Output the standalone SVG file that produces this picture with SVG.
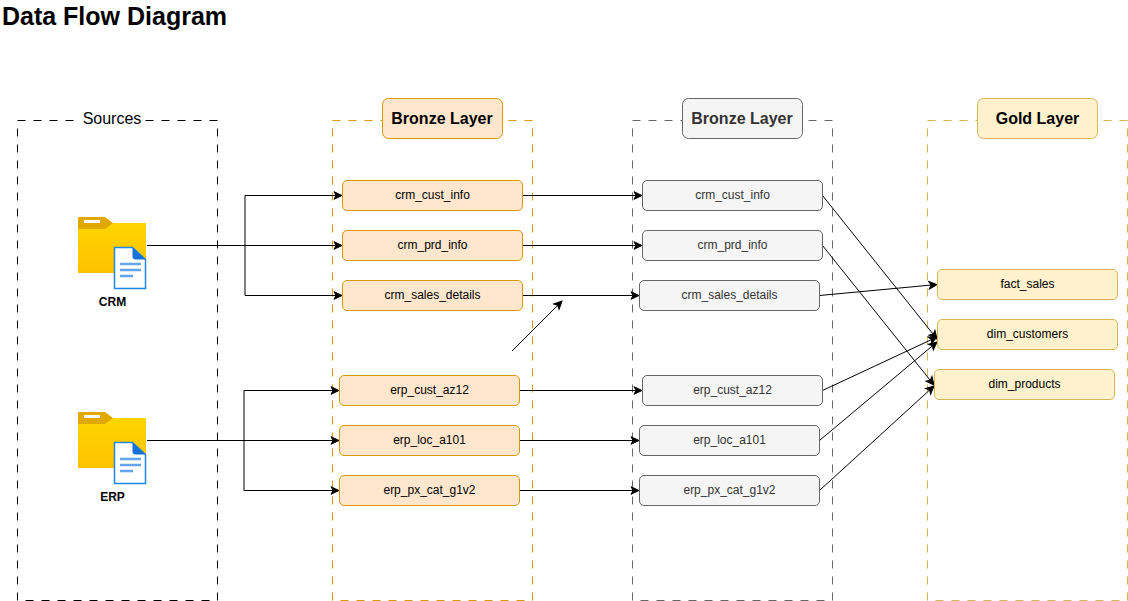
<svg xmlns="http://www.w3.org/2000/svg" xmlns:xlink="http://www.w3.org/1999/xlink" width="1128" height="601" viewBox="0 0 1128 601">
<style>
text{font-family:"Liberation Sans",Arial,sans-serif;fill:#000;text-anchor:middle}
.box{fill:none;stroke-width:1;stroke-dasharray:8 8}
.n{stroke-width:1}
.t{font-size:12px}
.h{font-size:16px;font-weight:bold}
.o{fill:#ffe6cc;stroke:#d79b00}
.s{fill:#f5f5f5;stroke:#666}
.g{fill:#fff2cc;stroke:#d6b656}
.e{fill:none;stroke:#000;stroke-width:1;marker-end:url(#a)}
</style>
<defs>
<marker id="a" markerUnits="userSpaceOnUse" markerWidth="12" markerHeight="12" refX="9" refY="5" orient="auto" viewBox="0 0 12 10"><path d="M1 1.200L9 5L1 8.800L3 5Z" fill="#000" stroke="#000" stroke-width="1"/></marker>
<linearGradient id="fg" x1="0" y1="0" x2="0" y2="1"><stop offset="0" stop-color="#ffd500"/><stop offset="1" stop-color="#fec200"/></linearGradient>
<g id="ic">
<path d="M0 6H68V56H0Z" fill="url(#fg)"/>
<path d="M0 1a1 1 0 0 1 1-1H27L35 6L27 12H0Z" fill="#e0a800"/>
<rect x="6" y="3" width="16" height="3" fill="#fff"/>
<path d="M36.500 30.500h18l13 12v29h-31Z" fill="#fff" stroke="#1e88e5" stroke-width="1.500"/>
<path d="M54.500 30.500l13 12h-10a3 3 0 0 1-3-3Z" fill="#1473d8"/>
<path d="M42 47h21M42 53h21M42 59h13" stroke="#64a5ee" stroke-width="2.500" fill="none"/>
</g>
</defs>
<text x="114.500" y="25" style="font-size:25px;font-weight:bold">Data Flow Diagram</text>
<g id="containers">
<g id="sources"><rect class="box" x="17.500" y="120.500" width="200" height="480" stroke="#000"/><rect x="81" y="108" width="64" height="22" fill="#fff"/><text x="112" y="124" style="font-size:16px">Sources</text></g>
<rect id="bronze-box" class="box" x="332.500" y="120.500" width="200" height="480" stroke="#d79b00"/>
<rect id="silver-box" class="box" x="632.500" y="120.500" width="200" height="480" stroke="#666"/>
<rect id="gold-box" class="box" x="927.500" y="120.500" width="200" height="480" stroke="#d6b656"/>
</g>
<g id="connectors">
<path class="e" d="M245 245.500V195.500H342"/>
<path class="e" d="M147 245.500H342"/>
<path class="e" d="M245 245.500V295.500H342"/>
<path class="e" d="M244 440.500V390.500H339"/>
<path class="e" d="M147 440.500H339"/>
<path class="e" d="M244 440.500V490.500H339"/>
<path class="e" d="M522.500 195.500H642"/>
<path class="e" d="M522.500 245.500H642"/>
<path class="e" d="M522.500 295.500H639"/>
<path class="e" d="M519.500 390.500H642"/>
<path class="e" d="M519.500 440.500H639"/>
<path class="e" d="M519.500 490.500H639"/>
<path class="e" d="M512 351L562 301"/>
<path class="e" d="M822.500 195.500L937 339"/>
<path class="e" d="M822.500 245.500L934 385"/>
<path class="e" d="M819.500 295.500L937 284.500"/>
<path class="e" d="M822.500 390.500L937 337"/>
<path class="e" d="M819.500 440.500L937 342"/>
<path class="e" d="M819.500 490.500L934 386"/>
</g>
<g id="crm"><use xlink:href="#ic" href="#ic" x="78" y="217"/><text x="112.500" y="306" class="t" style="font-weight:bold">CRM</text></g>
<g id="erp"><use xlink:href="#ic" href="#ic" x="78" y="412"/><text x="112.500" y="501" class="t" style="font-weight:bold">ERP</text></g>
<g id="bronze-h"><rect class="n o" x="382.500" y="98.500" width="120" height="40" rx="6"/><text x="442" y="124" class="h">Bronze Layer</text></g>
<g id="silver-h"><rect class="n s" x="682.500" y="98.500" width="120" height="40" rx="6"/><text x="742" y="124" class="h" style="fill:#333">Bronze Layer</text></g>
<g id="gold-h"><rect class="n g" x="977.500" y="98.500" width="120" height="40" rx="6"/><text x="1037.500" y="124" class="h">Gold Layer</text></g>
<g id="b1"><rect class="n o" x="342.500" y="180.500" width="180" height="30" rx="4.500"/><text x="432.500" y="199" class="t">crm_cust_info</text></g>
<g id="b2"><rect class="n o" x="342.500" y="230.500" width="180" height="30" rx="4.500"/><text x="432.500" y="249" class="t">crm_prd_info</text></g>
<g id="b3"><rect class="n o" x="342.500" y="280.500" width="180" height="30" rx="4.500"/><text x="432.500" y="299" class="t">crm_sales_details</text></g>
<g id="b4"><rect class="n o" x="339.500" y="375.500" width="180" height="30" rx="4.500"/><text x="429.500" y="394" class="t">erp_cust_az12</text></g>
<g id="b5"><rect class="n o" x="339.500" y="425.500" width="180" height="30" rx="4.500"/><text x="429.500" y="444" class="t">erp_loc_a101</text></g>
<g id="b6"><rect class="n o" x="339.500" y="475.500" width="180" height="30" rx="4.500"/><text x="429.500" y="494" class="t">erp_px_cat_g1v2</text></g>
<g id="s1"><rect class="n s" x="642.500" y="180.500" width="180" height="30" rx="4.500"/><text x="732.500" y="199" class="t" style="fill:#333">crm_cust_info</text></g>
<g id="s2"><rect class="n s" x="642.500" y="230.500" width="180" height="30" rx="4.500"/><text x="732.500" y="249" class="t" style="fill:#333">crm_prd_info</text></g>
<g id="s3"><rect class="n s" x="639.500" y="280.500" width="180" height="30" rx="4.500"/><text x="729.500" y="299" class="t" style="fill:#333">crm_sales_details</text></g>
<g id="s4"><rect class="n s" x="642.500" y="375.500" width="180" height="30" rx="4.500"/><text x="732.500" y="394" class="t" style="fill:#333">erp_cust_az12</text></g>
<g id="s5"><rect class="n s" x="639.500" y="425.500" width="180" height="30" rx="4.500"/><text x="729.500" y="444" class="t" style="fill:#333">erp_loc_a101</text></g>
<g id="s6"><rect class="n s" x="639.500" y="475.500" width="180" height="30" rx="4.500"/><text x="729.500" y="494" class="t" style="fill:#333">erp_px_cat_g1v2</text></g>
<g id="g1"><rect class="n g" x="937.500" y="269.500" width="180" height="30" rx="4.500"/><text x="1027.500" y="288" class="t">fact_sales</text></g>
<g id="g2"><rect class="n g" x="937.500" y="319.500" width="180" height="30" rx="4.500"/><text x="1027.500" y="338" class="t">dim_customers</text></g>
<g id="g3"><rect class="n g" x="934.500" y="369.500" width="180" height="30" rx="4.500"/><text x="1024.500" y="388" class="t">dim_products</text></g>
</svg>
